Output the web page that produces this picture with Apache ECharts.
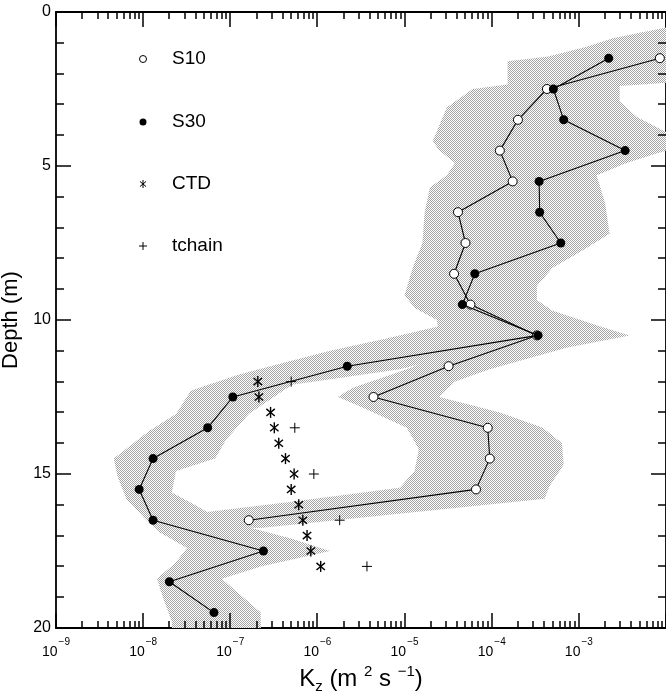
<!DOCTYPE html>
<html><head><meta charset="utf-8">
<script src="https://cdn.jsdelivr.net/npm/echarts@6/dist/echarts.min.js"></script>
<style>html,body{margin:0;padding:0;background:#fff}#c{width:666px;height:696px}</style>
</head><body><div id="c"></div>
<script>
// ---------------- data ----------------
const s10Depth = [1.5,2.5,3.5,4.5,5.5,6.5,7.5,8.5,9.5,10.5,11.5,12.5,13.5,14.5,15.5,16.5];
const s10K = [8.5e-3,4.3e-4,2.0e-4,1.24e-4,1.74e-4,4.1e-5,5.0e-5,3.7e-5,5.7e-5,3.3e-4,3.2e-5,4.4e-6,9.0e-5,9.5e-5,6.6e-5,1.63e-7];

const s30Depth = [1.5,2.5,3.5,4.5,5.5,6.5,7.5,8.5,9.5,10.5,11.5,12.5,13.5,14.5,15.5,16.5,17.5,18.5,19.5];
const s30K = [2.2e-3,5.1e-4,6.7e-4,3.4e-3,3.5e-4,3.55e-4,6.2e-4,6.4e-5,4.6e-5,3.4e-4,2.2e-6,1.07e-7,5.5e-8,1.3e-8,9.0e-9,1.3e-8,2.4e-7,2.0e-8,6.5e-8];

const ctdDepth = [12,12.5,13,13.5,14,14.5,15,15.5,16,16.5,17,17.5,18];
const ctdK = [2.07e-7,2.13e-7,2.9e-7,3.2e-7,3.6e-7,4.3e-7,5.4e-7,5.0e-7,6.1e-7,6.8e-7,7.6e-7,8.4e-7,1.09e-6];

const tchainDepth = [12,13.5,15,16.5,18];
const tchainK = [5.0e-7,5.5e-7,9.1e-7,1.8e-6,3.7e-6];

// uncertainty bands: [K, depth] along left and right edges (top to bottom)
const s10BandLeft = [[1e-2,0.5],[2.44e-3,0.85],[1.23e-3,1.13],[4.3e-4,1.45],[1.52e-4,1.6],[1.52e-4,2.35],[6.05e-5,2.5],[3.05e-5,3.1],[2.1e-5,4.2],[2.5e-5,4.5],[3.8e-5,4.9],[3.05e-5,5.3],[1.95e-5,5.7],[1.7e-5,6.5],[1.6e-5,7.5],[1.24e-5,8.3],[1.0e-5,9.2],[1.3e-5,9.6],[2.34e-5,10.0],[2.5e-5,10.5],[2.96e-5,11.1],[1.06e-5,11.6],[2.55e-6,12.2],[1.71e-6,12.5],[3.06e-6,12.8],[1.06e-5,13.5],[1.46e-5,14.2],[1.3e-5,14.9],[8.8e-6,15.45],[5.1e-7,15.9],[3.5e-8,16.3],[3.5e-8,16.7]];
const s10BandRight = [[1e-2,0.5],[1e-2,2.3],[2.94e-3,2.4],[2.94e-3,2.9],[4.6e-3,3.4],[1e-2,3.9],[1e-2,4.5],[3.53e-3,4.9],[1.6e-3,5.3],[2.0e-3,6.2],[2.25e-3,7.2],[1.02e-3,7.8],[5.0e-4,8.3],[3.3e-4,8.9],[3.3e-4,9.35],[5.0e-4,9.7],[1.73e-3,10.2],[3.83e-3,10.5],[7.2e-4,10.9],[2.27e-4,11.3],[9.5e-5,11.6],[3.8e-5,12.0],[2.5e-5,12.5],[1.24e-4,13.0],[3.85e-4,13.5],[6.4e-4,14.0],[6.7e-4,14.7],[4.6e-4,15.4],[4.05e-4,15.8],[2.2e-7,16.75]];

const s30BandLeft = [[2.5e-5,10.2],[5.2e-6,10.65],[1.39e-6,11.0],[1.32e-7,11.75],[3.5e-8,12.3],[3.18e-8,12.5],[2.38e-8,13.05],[1.17e-8,13.6],[4.6e-9,14.5],[5.1e-9,15.1],[6.4e-9,15.8],[1.05e-8,16.45],[1.56e-8,16.9],[3.18e-8,17.4],[2.32e-8,17.9],[1.44e-8,18.4],[1.73e-8,19.1],[2.14e-8,19.8],[2.14e-8,20]];
const s30BandRight = [[6.0e-4,10.2],[3.83e-3,10.5],[2.27e-4,10.7],[3.3e-5,11.2],[8.8e-6,11.6],[5.1e-7,12.1],[1.63e-7,13.05],[8.9e-8,13.9],[6.7e-8,14.5],[2.38e-8,14.9],[2.14e-8,15.6],[3.9e-8,16.0],[8.0e-8,16.5],[5.1e-7,17.1],[1.39e-6,17.5],[2.24e-7,18.0],[8.0e-8,18.4],[1.47e-7,19.05],[2.24e-7,19.5],[2.24e-7,20]];

const xMajorTicks = [1e-9,1e-8,1e-7,1e-6,1e-5,1e-4,1e-3,1e-2];
const xLabelValues = [1e-9,1e-8,1e-7,1e-6,1e-5,1e-4,1e-3];
const yMajorTicks = [0,5,10,15,20];
const legendNames = ['S10','S30','CTD','tchain'];

// ---------------- helpers ----------------
const FONT = '"Liberation Sans", Arial, Helvetica, sans-serif';
const xMinorTicks = [];
for (let i = 0; i < xMajorTicks.length - 1; i++) {
  for (let k = 2; k <= 9; k++) xMinorTicks.push(+(k * xMajorTicks[i]).toPrecision(3));
}
const yMinorTicks = [];
for (let d = 1; d < 20; d++) if (d % 5 !== 0) yMinorTicks.push(d);
const zip = (k, d) => k.map((v, i) => [v, d[i]]);

const pc = document.createElement('canvas');
pc.width = 2; pc.height = 2;
const pctx = pc.getContext('2d');
pctx.fillStyle = '#ffffff'; pctx.fillRect(0, 0, 2, 2);
pctx.fillStyle = '#a4a4a4'; pctx.fillRect(0, 0, 1, 1); pctx.fillRect(1, 1, 1, 1);
const stipple = { type: 'pattern', image: pc, repeat: 'repeat' };

function asteriskEls(cx, cy, r, w) {
  const els = [];
  [90, 40, 140].forEach(a => {
    const t = a * Math.PI / 180, dx = r * Math.cos(t), dy = r * Math.sin(t);
    els.push({ type: 'line', shape: { x1: cx - dx, y1: cy - dy, x2: cx + dx, y2: cy + dy }, style: { stroke: '#000', lineWidth: w } });
  });
  return els;
}
function plusEls(cx, cy, r) {
  return [
    { type: 'line', shape: { x1: cx - r, y1: cy, x2: cx + r, y2: cy }, style: { stroke: '#000', lineWidth: 1 } },
    { type: 'line', shape: { x1: cx, y1: cy - r, x2: cx, y2: cy + r }, style: { stroke: '#000', lineWidth: 1 } }
  ];
}
function bandSeries(name, left, right) {
  return {
    name: name, type: 'custom', xAxisIndex: 0, yAxisIndex: 0, clip: true, silent: true, z: 1,
    data: [[1e-5, 10]],
    renderItem: function (params, api) {
      const pts = left.map(p => api.coord(p)).concat(right.slice().reverse().map(p => api.coord(p)));
      return { type: 'polygon', shape: { points: pts }, style: { fill: stipple, stroke: null } };
    }
  };
}
function tickRect(x, y, w, h) {
  return { type: 'rect', shape: { x: x, y: y, width: w, height: h }, style: { fill: '#000' } };
}
// inward frame ticks drawn through the axes' scales, on their own layer
const tickData = xMajorTicks.map(v => [v, 10, 15, 0])
  .concat(xMinorTicks.map(v => [v, 10, 7, 0]))
  .concat(yMajorTicks.map(d => [1e-5, d, 15, 1]))
  .concat(yMinorTicks.map(d => [1e-5, d, 8, 1]));
const tickSeries = {
  name: 'frame ticks', type: 'custom', xAxisIndex: 0, yAxisIndex: 0, silent: true, zlevel: 1, z: 30,
  encode: { x: 0, y: 1 }, data: tickData,
  renderItem: function (params, api) {
    const len = api.value(2);
    const top = api.coord([1e-5, 0])[1], bot = api.coord([1e-5, 20])[1];
    const lft = api.coord([1e-9, 10])[0], rgt = api.coord([1e-2, 10])[0];
    if (api.value(3) === 0) {
      const x = Math.round(api.coord([api.value(0), 10])[0]) - 0.5;
      return { type: 'group', children: [tickRect(x, bot - len, 1, len), tickRect(x, top, 1, len)] };
    }
    const y = Math.round(api.coord([1e-5, api.value(1)])[1]) - 0.5;
    return { type: 'group', children: [tickRect(lft, y, len, 1), tickRect(rgt - len, y, len, 1)] };
  }
};

const xLabelRich = {
  b: { fontSize: 14, fontFamily: FONT, color: '#000', lineHeight: 22, verticalAlign: 'bottom' },
  s: { fontSize: 10, fontFamily: FONT, color: '#000', lineHeight: 10, verticalAlign: 'top', padding: [0, 0, 0, 1] }
};

function xAxisBase(pos) {
  return {
    type: 'log', logBase: 10, min: 1e-9, max: 1e-2, position: pos, gridIndex: 0,
    axisLine: { show: true, onZero: false, lineStyle: { color: '#000', width: 1.8 } },
    axisTick: { show: false }, axisLabel: { show: false },
    splitLine: { show: false }, minorTick: { show: false }, minorSplitLine: { show: false }
  };
}
const xMain = xAxisBase('bottom');
xMain.axisLabel = {
  show: true, customValues: xLabelValues, margin: 9,
  formatter: function (v) {
    const e = Math.round(Math.log10(v));
    return '{b|10}{s|\u2212' + (-e) + '}';
  },
  rich: xLabelRich
};
xMain.name = '{t|K}{sub|z}{t| (m }{sup|2}{t| s }{sup|\u22121}{t|)}';
xMain.nameLocation = 'middle';
xMain.nameGap = 33;
xMain.nameTextStyle = {
  rich: {
    t: { fontSize: 24, fontFamily: FONT, color: '#000', lineHeight: 30, verticalAlign: 'middle' },
    sub: { fontSize: 15, fontFamily: FONT, color: '#000', lineHeight: 15, verticalAlign: 'bottom' },
    sup: { fontSize: 15, fontFamily: FONT, color: '#000', lineHeight: 15, verticalAlign: 'top' }
  }
};

function yAxisBase(pos, showLabel) {
  return {
    type: 'value', inverse: true, min: 0, max: 20, interval: 5, position: pos, gridIndex: 0,
    axisLine: { show: true, onZero: false, lineStyle: { color: '#000', width: 1.8 } },
    axisTick: { show: false }, minorTick: { show: false },
    axisLabel: { show: showLabel, fontSize: 16, fontFamily: FONT, color: '#000', margin: 5 },
    splitLine: { show: false }
  };
}
const yMain = yAxisBase('left', true);
yMain.name = 'Depth (m)';
yMain.nameLocation = 'middle';
yMain.nameRotate = 90;
yMain.nameGap = 25;
yMain.nameTextStyle = { fontSize: 22, fontFamily: FONT, color: '#000' };

const legendGraphics = [
  { type: 'circle', shape: { cx: 143, cy: 59, r: 3.5 }, style: { fill: '#fff', stroke: '#000', lineWidth: 1 }, z: 10 },
  { type: 'circle', shape: { cx: 143, cy: 122, r: 3.5 }, style: { fill: '#000' }, z: 10 },
  { type: 'group', children: asteriskEls(143, 184, 4, 1), z: 10 },
  { type: 'group', children: plusEls(143, 246, 4), z: 10 },
  { type: 'text', x: 172, y: 59, style: { text: legendNames[0], font: '19px ' + FONT, fill: '#000', verticalAlign: 'middle' }, z: 10 },
  { type: 'text', x: 172, y: 122, style: { text: legendNames[1], font: '19px ' + FONT, fill: '#000', verticalAlign: 'middle' }, z: 10 },
  { type: 'text', x: 172, y: 184, style: { text: legendNames[2], font: '19px ' + FONT, fill: '#000', verticalAlign: 'middle' }, z: 10 },
  { type: 'text', x: 172, y: 246, style: { text: legendNames[3], font: '19px ' + FONT, fill: '#000', verticalAlign: 'middle' }, z: 10 }
];

const option = {
  animation: false,
  backgroundColor: '#fff',
  grid: { left: 56, right: 0, top: 12, bottom: 68, containLabel: false, outerBoundsMode: 'none' },
  xAxis: [xMain, xAxisBase('top')],
  yAxis: [yMain, yAxisBase('right', false)],
  series: [
    bandSeries('S10 range', s10BandLeft, s10BandRight),
    bandSeries('S30 range', s30BandLeft, s30BandRight),
    {
      name: legendNames[0], type: 'line', xAxisIndex: 0, yAxisIndex: 0, z: 3,
      data: zip(s10K, s10Depth),
      symbol: 'circle', symbolSize: 9, showAllSymbol: true,
      lineStyle: { color: '#000', width: 1.1 },
      itemStyle: { color: '#fff', borderColor: '#000', borderWidth: 1 }
    },
    {
      name: legendNames[1], type: 'line', xAxisIndex: 0, yAxisIndex: 0, z: 4,
      data: zip(s30K, s30Depth),
      symbol: 'circle', symbolSize: 9, showAllSymbol: true,
      lineStyle: { color: '#000', width: 1.1 },
      itemStyle: { color: '#000', borderColor: '#000', borderWidth: 0 }
    },
    {
      name: legendNames[2], type: 'custom', xAxisIndex: 0, yAxisIndex: 0, z: 5,
      data: zip(ctdK, ctdDepth),
      renderItem: function (params, api) {
        const p = api.coord([api.value(0), api.value(1)]);
        return { type: 'group', children: asteriskEls(p[0], p[1], 5.5, 1.4) };
      }
    },
    {
      name: legendNames[3], type: 'custom', xAxisIndex: 0, yAxisIndex: 0, z: 5,
      data: zip(tchainK, tchainDepth),
      renderItem: function (params, api) {
        const p = api.coord([api.value(0), api.value(1)]);
        return { type: 'group', children: plusEls(p[0], p[1], 5) };
      }
    },
    tickSeries
  ],
  graphic: { elements: legendGraphics }
};
const chart = echarts.init(document.getElementById('c'), null, { renderer: 'canvas' });
chart.setOption(option);

// same ticks again as graphic elements on the separate layer (positions from the axes' scales)
try {
  const toPx = (k, d) => chart.convertToPixel({ xAxisIndex: 0, yAxisIndex: 0 }, [k, d]);
  const topY = toPx(1e-5, 0)[1], botY = toPx(1e-5, 20)[1];
  const lftX = toPx(1e-9, 10)[0], rgtX = toPx(1e-2, 10)[0];
  const tickGraphics = [];
  const addX = (v, len) => {
    const x = Math.round(toPx(v, 10)[0]) - 0.5;
    tickGraphics.push(Object.assign(tickRect(x, botY - len, 1, len), { zlevel: 1, z: 30, silent: true }));
    tickGraphics.push(Object.assign(tickRect(x, topY, 1, len), { zlevel: 1, z: 30, silent: true }));
  };
  const addY = (d, len) => {
    const y = Math.round(toPx(1e-5, d)[1]) - 0.5;
    tickGraphics.push(Object.assign(tickRect(lftX, y, len, 1), { zlevel: 1, z: 30, silent: true }));
    tickGraphics.push(Object.assign(tickRect(rgtX - len, y, len, 1), { zlevel: 1, z: 30, silent: true }));
  };
  xMajorTicks.forEach(v => addX(v, 15));
  xMinorTicks.forEach(v => addX(v, 7));
  yMajorTicks.forEach(d => addY(d, 15));
  yMinorTicks.forEach(d => addY(d, 8));
  chart.setOption({ graphic: { elements: legendGraphics.concat(tickGraphics) } });
} catch (e) { /* ticks are optional decoration */ }
</script></body></html>
